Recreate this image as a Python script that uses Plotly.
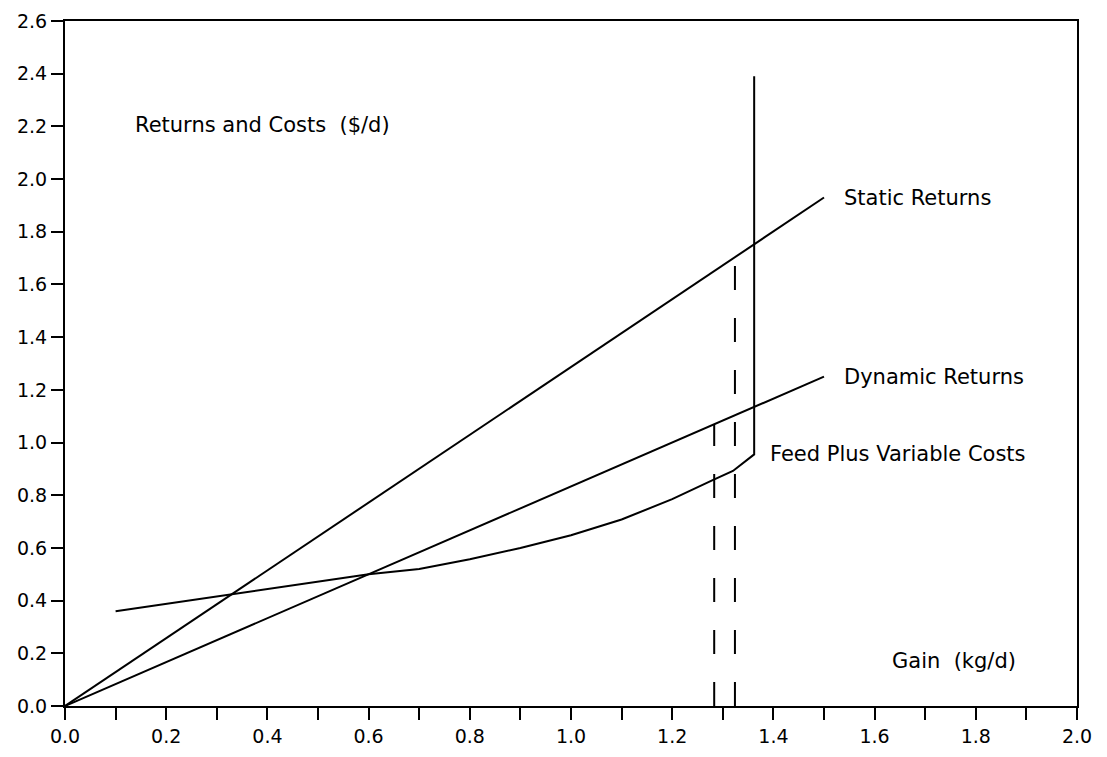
import plotly.graph_objects as go

# Data
static_x = [0.0, 1.5]
static_y = [0.0, 1.93]

dynamic_x = [0.0, 1.5]
dynamic_y = [0.0, 1.25]

cost_x = [0.1, 0.6, 0.7, 0.8, 0.9, 1.0, 1.1, 1.2, 1.28, 1.32, 1.362, 1.362]
cost_y = [0.36, 0.50, 0.52, 0.557, 0.600, 0.648, 0.708, 0.785, 0.857, 0.892, 0.955, 2.39]

dash1_x = [1.283, 1.283]
dash1_y = [0.0, 1.068]
dash2_x = [1.324, 1.324]
dash2_y = [0.0, 1.70]

labels = ["Returns and Costs  ($/d)", "Static Returns", "Dynamic Returns",
          "Feed Plus Variable Costs", "Gain  (kg/d)"]
label_x = [0.135, 1.535, 1.535, 1.39, 1.63]
label_y = [2.207, 1.93, 1.25, 0.955, 0.17]

black = "#000000"
fig = go.Figure()
for xs, ys in [(static_x, static_y), (dynamic_x, dynamic_y), (cost_x, cost_y)]:
    fig.add_trace(go.Scatter(x=xs, y=ys, mode="lines",
                             line=dict(color=black, width=2), showlegend=False,
                             hoverinfo="skip"))
for xs, ys in [(dash1_x, dash1_y), (dash2_x, dash2_y)]:
    fig.add_trace(go.Scatter(x=xs, y=ys, mode="lines",
                             line=dict(color=black, width=2, dash="24px,28px"),
                             showlegend=False, hoverinfo="skip"))

for t, x, y in zip(labels, label_x, label_y):
    fig.add_annotation(x=x, y=y, text=t, showarrow=False, xanchor="left",
                       yanchor="middle", font=dict(size=21, color=black,
                                                   family="DejaVu Sans"))

tick_font = dict(size=19, color=black, family="DejaVu Sans")
axis_common = dict(showline=True, linecolor=black, linewidth=2, mirror=True,
                   ticks="outside", ticklen=12, tickwidth=2, tickcolor=black,
                   showgrid=False, zeroline=False, automargin=False,
                   ticklabeloverflow="allow")

fig.update_xaxes(range=[0, 2.0], dtick=0.2, tickformat=".1f",
                 minor=dict(dtick=0.1, ticks="outside", ticklen=12,
                            tickwidth=2, tickcolor=black),
                 **axis_common)
fig.update_yaxes(range=[0, 2.6], dtick=0.2, tickformat=".1f", **axis_common)
fig.update_xaxes(tickfont=tick_font)
fig.update_yaxes(tickfont=tick_font)

fig.update_layout(width=1107, height=757,
                  margin=dict(l=57, r=38, t=13, b=59, autoexpand=False),
                  plot_bgcolor="white", paper_bgcolor="white")

fig.write_html("out.html")
